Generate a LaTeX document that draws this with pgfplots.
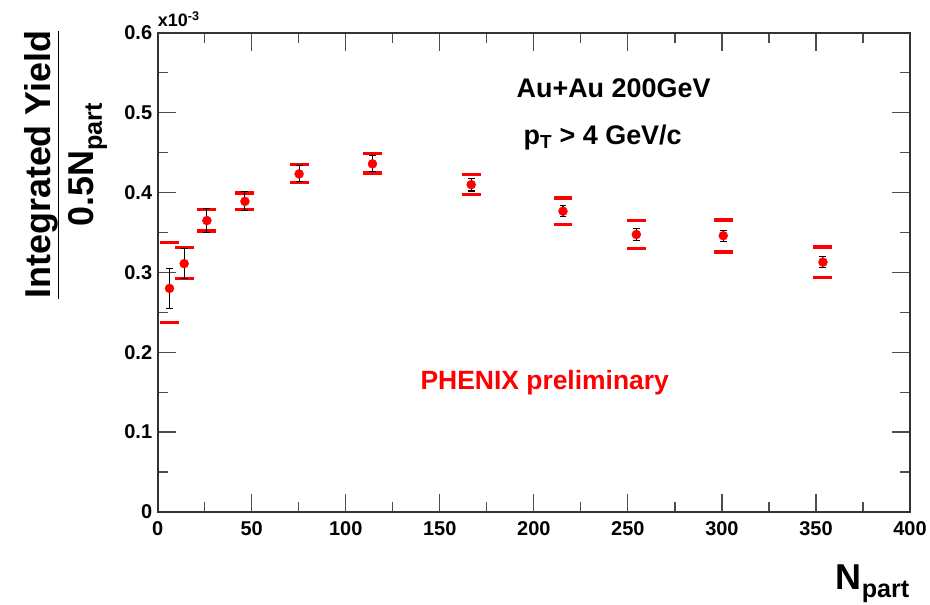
\documentclass[border=0pt]{standalone}
\usepackage{fontspec}
\setmainfont{Liberation Sans}
\usepackage{pgfplots}
\usepackage{pgfplotstable}
\pgfplotsset{compat=1.18}

% N_part, yield/(0.5 N_part), stat. error, upper and lower systematic edge
\pgfplotstableread{
N      Y       stat    hi      lo
6.3    0.2800  0.0250  0.3375  0.2375
14.1   0.3110  0.0190  0.3310  0.2925
26.2   0.3650  0.0146  0.3790  0.3516
46.4   0.3890  0.0120  0.3996  0.3790
75.2   0.4234  0.0100  0.4350  0.4129
114.2  0.4360  0.0100  0.4490  0.4246
166.7  0.4100  0.0080  0.4225  0.3975
215.5  0.3767  0.0070  0.3933  0.3600
254.5  0.3475  0.0070  0.3650  0.3300
300.7  0.3460  0.0070  0.3654  0.3254
353.7  0.3129  0.0070  0.3317  0.2938
}\yielddata

\begin{document}
\begin{tikzpicture}[x=1pt,y=1pt]
\begin{axis}[
  anchor=origin,
  scale only axis, width=754pt, height=480pt,
  clip mode=individual,
  xmin=0, xmax=400, ymin=0, ymax=0.6,
  xtick={0,50,...,400}, minor xtick={25,75,...,375},
  ytick={0,0.1,0.2,0.3,0.4,0.5,0.6}, minor ytick={0.05,0.15,0.25,0.35,0.45,0.55},
  tick align=inside,
  major tick length=18pt, minor tick length=10pt,
  tick style={line width=1.2pt, black!70},
  axis line style={line width=2pt, black!80},
  tick label style={font=\fontsize{20}{20}\selectfont\bfseries},
  /pgf/number format/assume math mode=true,
  yticklabel style={xshift=-2pt, /pgf/number format/fixed, /pgf/number format/precision=1},
  xticklabel style={yshift=-6pt},
  xlabel={N\textsubscript{part}},
  xlabel style={font=\fontsize{36}{36}\selectfont\bfseries,
    at={(axis description cs:1.0,-0.15)}, anchor=east, inner sep=0pt},
  ylabel={\begin{tabular}{@{}c@{}}Integrated Yield\\[-4pt]\hline\rule{0pt}{36pt}0.5N\textsubscript{part}\end{tabular}},
  ylabel style={font=\fontsize{36}{36}\selectfont\bfseries,
    at={(axis description cs:-0.122,0.725)}, anchor=center, inner sep=0pt},
]
% systematic uncertainties: red caps only
\addplot[only marks, mark=-, red, mark size=9.5pt, mark options={line width=3.5pt}]
  table[x=N, y=hi] {\yielddata};
\addplot[only marks, mark=-, red, mark size=9.5pt, mark options={line width=3.5pt}]
  table[x=N, y=lo] {\yielddata};
% statistical uncertainties
\addplot[only marks, mark=none,
  error bars/.cd, y dir=both, y explicit,
  error bar style={black, line width=1.1pt},
  error mark options={black, line width=1.1pt, mark size=3.5pt, rotate=90}]
  table[x=N, y=Y, y error=stat] {\yielddata};
% central values
\addplot[only marks, mark=*, mark size=4.5pt, red, mark options={fill=red, draw=red}]
  table[x=N, y=Y] {\yielddata};

\node[font=\fontsize{27}{27}\selectfont\bfseries] at (axis cs:242.4,0.531) {Au+Au 200GeV};
\node[font=\fontsize{27}{27}\selectfont\bfseries] at (axis cs:236.6,0.469) {p\textsubscript{T} > 4 GeV/c};
\node[font=\fontsize{26.5}{26.5}\selectfont\bfseries, red] at (axis cs:205.8,0.1625) {PHENIX preliminary};
\node[font=\fontsize{18}{18}\selectfont\bfseries, anchor=base west, inner sep=0pt]
  at (rel axis cs:0,1) [yshift=6pt] {x10\textsuperscript{-3}};
\end{axis}
% page frame around the axis
\path (-158,-93) rectangle (772,513);
\end{tikzpicture}
\end{document}
